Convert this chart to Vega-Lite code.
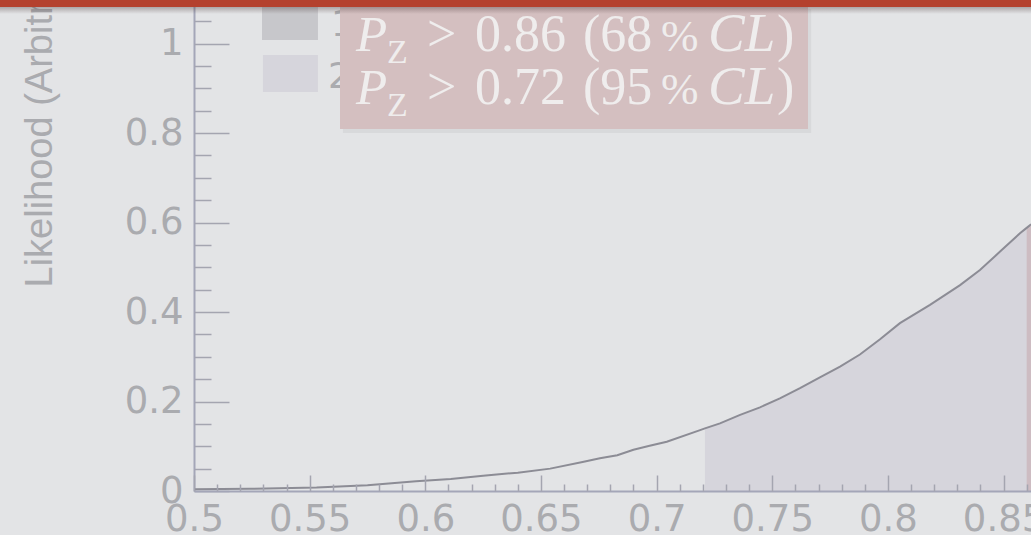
{
  "$schema": "https://vega.github.io/schema/vega-lite/v6.json",
  "width": 837,
  "height": 491,
  "autosize": {"type": "none"},
  "padding": {"left": 194, "top": 0, "right": 0, "bottom": 44},
  "background": "#e3e4e6",
  "config": {"view": {"stroke": null}, "axis": {"grid": false}},
  "datasets": {
    "curve": [
      {"x": 0.500, "L": 0.004},
      {"x": 0.524, "L": 0.005},
      {"x": 0.553, "L": 0.008},
      {"x": 0.575, "L": 0.013},
      {"x": 0.596, "L": 0.022},
      {"x": 0.611, "L": 0.027},
      {"x": 0.625, "L": 0.034},
      {"x": 0.640, "L": 0.041},
      {"x": 0.654, "L": 0.050},
      {"x": 0.668, "L": 0.065},
      {"x": 0.6755, "L": 0.073},
      {"x": 0.683, "L": 0.080},
      {"x": 0.690, "L": 0.092},
      {"x": 0.697, "L": 0.101},
      {"x": 0.7044, "L": 0.110},
      {"x": 0.7188, "L": 0.136},
      {"x": 0.7209, "L": 0.140},
      {"x": 0.7274, "L": 0.151},
      {"x": 0.7361, "L": 0.170},
      {"x": 0.7447, "L": 0.187},
      {"x": 0.7533, "L": 0.207},
      {"x": 0.7620, "L": 0.230},
      {"x": 0.7706, "L": 0.254},
      {"x": 0.7793, "L": 0.278},
      {"x": 0.7879, "L": 0.305},
      {"x": 0.7966, "L": 0.339},
      {"x": 0.8052, "L": 0.375},
      {"x": 0.8182, "L": 0.416},
      {"x": 0.8312, "L": 0.460},
      {"x": 0.8398, "L": 0.494},
      {"x": 0.8485, "L": 0.535},
      {"x": 0.8571, "L": 0.576},
      {"x": 0.8600, "L": 0.588},
      {"x": 0.8614, "L": 0.594},
      {"x": 0.8619, "L": 0.596}
    ]
  },
  "resolve": {"axis": {"x": "independent", "y": "independent"}},
  "layer": [
    {
      "data": {"name": "curve"},
      "transform": [{"filter": "datum.x >= 0.72"}],
      "mark": {"type": "area", "clip": true, "color": "#d6d5dc"},
      "encoding": {
        "x": {"field": "x", "type": "quantitative",
          "scale": {"domain": [0.5, 0.86187], "nice": false, "zero": false},
          "axis": {"orient": "bottom", "values": [0.5, 0.55, 0.6, 0.65, 0.7, 0.75, 0.8, 0.85], "format": "~g",
            "ticks": false, "domain": true, "domainColor": "#a4a6b8", "domainWidth": 2,
            "labelFont": "DejaVu Sans", "labelFontSize": 37, "labelColor": "#aaabaf", "labelPadding": 10,
            "labelFlush": false, "labelOverlap": false, "labelBound": false, "title": null, "zindex": 1}},
        "y": {"field": "L", "type": "quantitative",
          "scale": {"domain": [0, 1.09721], "nice": false, "zero": false},
          "axis": {"orient": "left", "values": [0, 0.2, 0.4, 0.6, 0.8, 1], "format": "~g",
            "ticks": false, "domain": true, "domainColor": "#a4a6b8", "domainWidth": 2,
            "labelFont": "DejaVu Sans", "labelFontSize": 37, "labelColor": "#aaabaf", "labelPadding": 11,
            "labelFlush": false, "labelOverlap": false, "labelBound": false,
            "title": "Likelihood (Arbitrary units)", "titleFont": "Liberation Sans", "titleFontSize": 38,
            "titleFontWeight": "normal", "titleColor": "#aaabaf", "titleAngle": 270, "titleAlign": "left",
            "titleBaseline": "alphabetic", "titleX": -143, "titleY": 287, "zindex": 0}}
      }
    },
    {
      "data": {"name": "curve"},
      "transform": [{"filter": "datum.x >= 0.86"}],
      "mark": {"type": "area", "clip": true, "color": "#cdbcc2"},
      "encoding": {
        "x": {"field": "x", "type": "quantitative",
          "scale": {"domain": [0.5, 0.86187], "nice": false, "zero": false},
          "axis": {"orient": "bottom", "values": [0.5, 0.55, 0.6, 0.65, 0.7, 0.75, 0.8, 0.85],
            "labels": false, "domain": false, "ticks": true, "tickSize": -16, "tickColor": "#a4a5b0",
            "tickWidth": 1.5, "title": null, "zindex": 1}},
        "y": {"field": "L", "type": "quantitative",
          "scale": {"domain": [0, 1.09721], "nice": false, "zero": false},
          "axis": {"orient": "left", "values": [0, 0.2, 0.4, 0.6, 0.8, 1],
            "labels": false, "domain": false, "ticks": true, "tickSize": -35, "tickColor": "#a4a5b0",
            "tickWidth": 1.5, "title": null, "zindex": 0}}
      }
    },
    {
      "data": {"name": "curve"},
      "mark": {"type": "line", "clip": true, "color": "#8c8c95", "strokeWidth": 2},
      "encoding": {
        "x": {"field": "x", "type": "quantitative",
          "scale": {"domain": [0.5, 0.86187], "nice": false, "zero": false},
          "axis": {"orient": "bottom",
            "values": [0.51, 0.52, 0.53, 0.54, 0.56, 0.57, 0.58, 0.59, 0.61, 0.62, 0.63, 0.64, 0.66, 0.67, 0.68, 0.69, 0.71, 0.72, 0.73, 0.74, 0.76, 0.77, 0.78, 0.79, 0.81, 0.82, 0.83, 0.84, 0.86],
            "labels": false, "domain": false, "ticks": true, "tickSize": -7, "tickColor": "#a4a5b0",
            "tickWidth": 1.5, "title": null, "zindex": 1}},
        "y": {"field": "L", "type": "quantitative",
          "scale": {"domain": [0, 1.09721], "nice": false, "zero": false},
          "axis": {"orient": "left",
            "values": [0.05, 0.1, 0.15, 0.25, 0.3, 0.35, 0.45, 0.5, 0.55, 0.65, 0.7, 0.75, 0.85, 0.9, 0.95, 1.05],
            "labels": false, "domain": false, "ticks": true, "tickSize": -17, "tickColor": "#a4a5b0",
            "tickWidth": 1.5, "title": null, "zindex": 0}}
      }
    },
    {
      "data": {"values": [{}]},
      "mark": {"type": "rect", "color": "#c7c7cb"},
      "encoding": {
        "x": {"datum": 0.5294, "scale": {"domain": [0.5, 0.86187], "nice": false, "zero": false}, "axis": null},
        "x2": {"datum": 0.5536},
        "y": {"datum": 1.12, "scale": {"domain": [0, 1.09721], "nice": false, "zero": false}, "axis": null},
        "y2": {"datum": 1.0078}
      }
    },
    {
      "data": {"values": [{}]},
      "mark": {"type": "rect", "color": "#d6d5dc"},
      "encoding": {
        "x": {"datum": 0.5298, "scale": {"domain": [0.5, 0.86187], "nice": false, "zero": false}, "axis": null},
        "x2": {"datum": 0.5536},
        "y": {"datum": 0.9743, "scale": {"domain": [0, 1.09721], "nice": false, "zero": false}, "axis": null},
        "y2": {"datum": 0.8916}
      }
    },
    {
      "data": {"values": [{"t": "1"}]},
      "mark": {"type": "text", "font": "DejaVu Sans", "fontSize": 36, "align": "left", "baseline": "alphabetic", "color": "#aaabaf"},
      "encoding": {
        "text": {"field": "t"},
        "x": {"datum": 0.5592, "scale": {"domain": [0.5, 0.86187], "nice": false, "zero": false}, "axis": null},
        "y": {"datum": 1.0168, "scale": {"domain": [0, 1.09721], "nice": false, "zero": false}, "axis": null}
      }
    },
    {
      "data": {"values": [{"t": "2"}]},
      "mark": {"type": "text", "font": "DejaVu Sans", "fontSize": 36, "align": "left", "baseline": "alphabetic", "color": "#aaabaf"},
      "encoding": {
        "text": {"field": "t"},
        "x": {"datum": 0.5579, "scale": {"domain": [0.5, 0.86187], "nice": false, "zero": false}, "axis": null},
        "y": {"datum": 0.9006, "scale": {"domain": [0, 1.09721], "nice": false, "zero": false}, "axis": null}
      }
    },
    {
      "data": {"values": [{}]},
      "mark": {"type": "rect", "color": "rgba(90,90,90,0.08)"},
      "encoding": {
        "x": {"datum": 0.5644, "scale": {"domain": [0.5, 0.86187], "nice": false, "zero": false}, "axis": null},
        "x2": {"datum": 0.7668},
        "y": {"datum": 1.0772, "scale": {"domain": [0, 1.09721], "nice": false, "zero": false}, "axis": null},
        "y2": {"datum": 0.7999}
      }
    },
    {
      "data": {"values": [{}]},
      "mark": {"type": "rect", "color": "#d4bfc0"},
      "encoding": {
        "x": {"datum": 0.56312, "scale": {"domain": [0.5, 0.86187], "nice": false, "zero": false}, "axis": null},
        "x2": {"datum": 0.76546},
        "y": {"datum": 1.0816, "scale": {"domain": [0, 1.09721], "nice": false, "zero": false}, "axis": null},
        "y2": {"datum": 0.8089}
      }
    },
    {
      "data": {"values": [{}]},
      "mark": {"type": "text", "text": ["P", "P"], "lineHeight": 53, "font": "Liberation Serif", "fontStyle": "italic", "fontSize": 51, "align": "left", "baseline": "alphabetic", "color": "#efeded"},
      "encoding": {
        "x": {"datum": 0.57004, "scale": {"domain": [0.5, 0.86187], "nice": false, "zero": false}, "axis": null},
        "y": {"datum": 0.98324, "scale": {"domain": [0, 1.09721], "nice": false, "zero": false}, "axis": null}
      }
    },
    {
      "data": {"values": [{}]},
      "mark": {"type": "text", "text": ["Z", "Z"], "lineHeight": 53, "font": "Liberation Serif", "fontSize": 34, "align": "left", "baseline": "alphabetic", "color": "#efeded"},
      "encoding": {
        "x": {"datum": 0.58344, "scale": {"domain": [0.5, 0.86187], "nice": false, "zero": false}, "axis": null},
        "y": {"datum": 0.95642, "scale": {"domain": [0, 1.09721], "nice": false, "zero": false}, "axis": null}
      }
    },
    {
      "data": {"values": [{}]},
      "mark": {"type": "text", "text": [">", ">"], "lineHeight": 53, "font": "Liberation Serif", "fontSize": 52, "align": "left", "baseline": "alphabetic", "color": "#efeded"},
      "encoding": {
        "x": {"datum": 0.60073, "scale": {"domain": [0.5, 0.86187], "nice": false, "zero": false}, "axis": null},
        "y": {"datum": 0.98324, "scale": {"domain": [0, 1.09721], "nice": false, "zero": false}, "axis": null}
      }
    },
    {
      "data": {"values": [{}]},
      "mark": {"type": "text", "text": ["0.86", "0.72"], "lineHeight": 53, "font": "Liberation Serif", "fontSize": 52, "align": "left", "baseline": "alphabetic", "color": "#efeded"},
      "encoding": {
        "x": {"datum": 0.62148, "scale": {"domain": [0.5, 0.86187], "nice": false, "zero": false}, "axis": null},
        "y": {"datum": 0.98324, "scale": {"domain": [0, 1.09721], "nice": false, "zero": false}, "axis": null}
      }
    },
    {
      "data": {"values": [{}]},
      "mark": {"type": "text", "text": ["(68", "(95"], "lineHeight": 53, "font": "Liberation Serif", "fontSize": 52, "align": "left", "baseline": "alphabetic", "color": "#efeded"},
      "encoding": {
        "x": {"datum": 0.66818, "scale": {"domain": [0.5, 0.86187], "nice": false, "zero": false}, "axis": null},
        "y": {"datum": 0.98324, "scale": {"domain": [0, 1.09721], "nice": false, "zero": false}, "axis": null}
      }
    },
    {
      "data": {"values": [{}]},
      "mark": {"type": "text", "text": ["%", "%"], "lineHeight": 53, "font": "Liberation Serif", "fontSize": 45, "align": "left", "baseline": "alphabetic", "color": "#efeded"},
      "encoding": {
        "x": {"datum": 0.70191, "scale": {"domain": [0.5, 0.86187], "nice": false, "zero": false}, "axis": null},
        "y": {"datum": 0.98324, "scale": {"domain": [0, 1.09721], "nice": false, "zero": false}, "axis": null}
      }
    },
    {
      "data": {"values": [{}]},
      "mark": {"type": "text", "text": ["CL", "CL"], "lineHeight": 53, "font": "Liberation Serif", "fontStyle": "italic", "fontSize": 55, "align": "left", "baseline": "alphabetic", "color": "#efeded"},
      "encoding": {
        "x": {"datum": 0.72222, "scale": {"domain": [0.5, 0.86187], "nice": false, "zero": false}, "axis": null},
        "y": {"datum": 0.98324, "scale": {"domain": [0, 1.09721], "nice": false, "zero": false}, "axis": null}
      }
    },
    {
      "data": {"values": [{}]},
      "mark": {"type": "text", "text": [")", ")"], "lineHeight": 53, "font": "Liberation Serif", "fontSize": 52, "align": "left", "baseline": "alphabetic", "color": "#efeded"},
      "encoding": {
        "x": {"datum": 0.75206, "scale": {"domain": [0.5, 0.86187], "nice": false, "zero": false}, "axis": null},
        "y": {"datum": 0.98324, "scale": {"domain": [0, 1.09721], "nice": false, "zero": false}, "axis": null}
      }
    },
    {
      "data": {"values": [{}]},
      "mark": {"type": "rect", "fill": {"gradient": "linear", "x1": 0, "y1": 0, "x2": 0, "y2": 1, "stops": [{"offset": 0, "color": "rgba(70,50,50,0.35)"}, {"offset": 1, "color": "rgba(70,50,50,0)"}]}},
      "encoding": {
        "x": {"datum": 0.41, "scale": {"domain": [0.5, 0.86187], "nice": false, "zero": false}, "axis": null},
        "x2": {"datum": 0.87},
        "y": {"datum": 1.0816, "scale": {"domain": [0, 1.09721], "nice": false, "zero": false}, "axis": null},
        "y2": {"datum": 1.066}
      }
    },
    {
      "data": {"values": [{}]},
      "mark": {"type": "rect", "color": "#b4412e"},
      "encoding": {
        "x": {"datum": 0.41, "scale": {"domain": [0.5, 0.86187], "nice": false, "zero": false}, "axis": null},
        "x2": {"datum": 0.87},
        "y": {"datum": 1.2, "scale": {"domain": [0, 1.09721], "nice": false, "zero": false}, "axis": null},
        "y2": {"datum": 1.0816}
      }
    }
  ]
}
